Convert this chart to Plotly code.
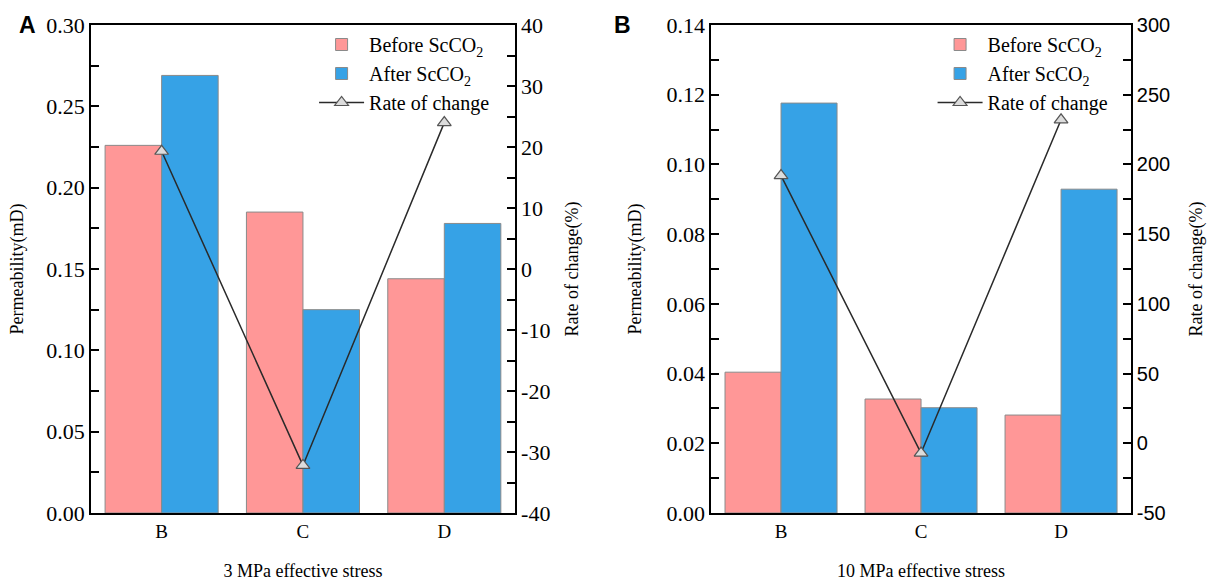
import plotly.graph_objects as go

categories = ["B", "C", "D"]

# Panel A: 3 MPa effective stress
perm_before_a = [0.226, 0.185, 0.144]
perm_after_a = [0.269, 0.125, 0.178]
rate_a = [19.3, -32.2, 24.0]

# Panel B: 10 MPa effective stress
perm_before_b = [0.0404, 0.0327, 0.0281]
perm_after_b = [0.1176, 0.0302, 0.0929]
rate_b = [192, -7, 232]

# right-axis tick labels (hyphen minus as in the reference)
rate_ticks_a = [-40, -30, -20, -10, 0, 10, 20, 30, 40]
rate_ticktext_a = ["-40", "-30", "-20", "-10", "0", "10", "20", "30", "40"]
rate_ticks_b = [-50, 0, 50, 100, 150, 200, 250, 300]
rate_ticktext_b = ["-50", "0", "50", "100", "150", "200", "250", "300"]

SERIF = "Liberation Serif, Times New Roman, serif"
SANS = "Liberation Sans, Arial, sans-serif"
PINK = "#FF9797"
BLUE = "#36A2E6"
BORDER = "#8a8a8a"

fig = go.Figure()


def add_panel(before, after, rate, xa, ya, ya2, legend):
    fig.add_trace(go.Bar(x=categories, y=before, name="Before ScCO<sub>2</sub>",
                         marker=dict(color=PINK, line=dict(color=BORDER, width=1)),
                         xaxis=xa, yaxis=ya, legend=legend, offsetgroup="1"))
    fig.add_trace(go.Bar(x=categories, y=after, name="After ScCO<sub>2</sub>",
                         marker=dict(color=BLUE, line=dict(color=BORDER, width=1)),
                         xaxis=xa, yaxis=ya, legend=legend, offsetgroup="2"))
    fig.add_trace(go.Scatter(x=categories, y=rate, name="Rate of change",
                             mode="lines+markers",
                             line=dict(color="#2a2a2a", width=1.5),
                             marker=dict(symbol="triangle-up", size=12, color="#dcdcdc",
                                         line=dict(color="#555555", width=1.2)),
                             xaxis=xa, yaxis=ya2, legend=legend))


add_panel(perm_before_a, perm_after_a, rate_a, "x", "y", "y2", "legend")
add_panel(perm_before_b, perm_after_b, rate_b, "x2", "y3", "y4", "legend2")

LINE = dict(showline=True, linecolor="black", linewidth=1.5, showgrid=False,
            zeroline=False, automargin=False)
TICKS = dict(ticks="inside", ticklen=8, tickwidth=1.5, tickcolor="black")
MINOR = dict(ticks="inside", ticklen=8, tickwidth=1.5, tickcolor="black")
TICK_SIZE = 22
TITLE_FONT = dict(family=SERIF, size=18, color="black")

xcommon = dict(ticks="", mirror=True,
               tickfont=dict(family=SERIF, size=19, color="black"),
               range=[-0.5, 2.5], **LINE)

fig.update_layout(
    template="none",
    width=1208, height=581,
    margin=dict(l=0, r=0, t=25, b=68),
    paper_bgcolor="white", plot_bgcolor="white",
    barmode="group", bargap=0.2, bargroupgap=0,
    xaxis=dict(domain=[0.0753, 0.4263], anchor="y",
               title=dict(text="3 MPa effective stress", font=TITLE_FONT, standoff=26),
               **xcommon),
    xaxis2=dict(domain=[0.5886, 0.9363], anchor="y3",
                title=dict(text="10 MPa effective stress", font=TITLE_FONT, standoff=26),
                **xcommon),
    yaxis=dict(anchor="x", range=[0, 0.30], dtick=0.05, tickformat=".2f",
               minor=dict(dtick=0.025, **MINOR),
               tickfont=dict(family=SERIF, size=TICK_SIZE, color="black"),
               title=dict(text="Permeability(mD)", font=TITLE_FONT, standoff=18),
               **TICKS, **LINE),
    yaxis2=dict(anchor="x", overlaying="y", side="right", range=[-40, 40],
                tickvals=rate_ticks_a, ticktext=rate_ticktext_a,
                minor=dict(dtick=5, **MINOR),
                tickfont=dict(family=SERIF, size=TICK_SIZE, color="black"),
                title=dict(text="Rate of change(%)", font=TITLE_FONT, standoff=16),
                **TICKS, **LINE),
    yaxis3=dict(anchor="x2", range=[0, 0.14], dtick=0.02, tickformat=".2f",
                minor=dict(dtick=0.01, **MINOR),
                tickfont=dict(family=SERIF, size=TICK_SIZE, color="black"),
                title=dict(text="Permeability(mD)", font=TITLE_FONT, standoff=20),
                **TICKS, **LINE),
    yaxis4=dict(anchor="x2", overlaying="y3", side="right", range=[-50, 300],
                tickvals=rate_ticks_b, ticktext=rate_ticktext_b,
                minor=dict(dtick=25, **MINOR),
                tickfont=dict(family=SANS, size=20, color="black"),
                title=dict(text="Rate of change(%)", font=TITLE_FONT, standoff=20),
                **TICKS, **LINE),
    legend=dict(x=0.260, y=1.0, xanchor="left", yanchor="top",
                bgcolor="rgba(255,255,255,0)",
                font=dict(family=SERIF, size=20, color="black"),
                itemwidth=45, tracegroupgap=0),
    legend2=dict(x=0.772, y=1.0, xanchor="left", yanchor="top",
                 bgcolor="rgba(255,255,255,0)",
                 font=dict(family=SERIF, size=20, color="black"),
                 itemwidth=45, tracegroupgap=0),
)

fig.add_annotation(text="<b>A</b>", xref="paper", yref="paper", x=27 / 1208, y=1,
                   xanchor="center", yanchor="middle", showarrow=False,
                   font=dict(family=SANS, size=23, color="black"))
fig.add_annotation(text="<b>B</b>", xref="paper", yref="paper", x=622 / 1208, y=1,
                   xanchor="center", yanchor="middle", showarrow=False,
                   font=dict(family=SANS, size=23, color="black"))

fig.write_html("out.html", config={"displayModeBar": False},
               post_script="document.body.style.margin='0';")
